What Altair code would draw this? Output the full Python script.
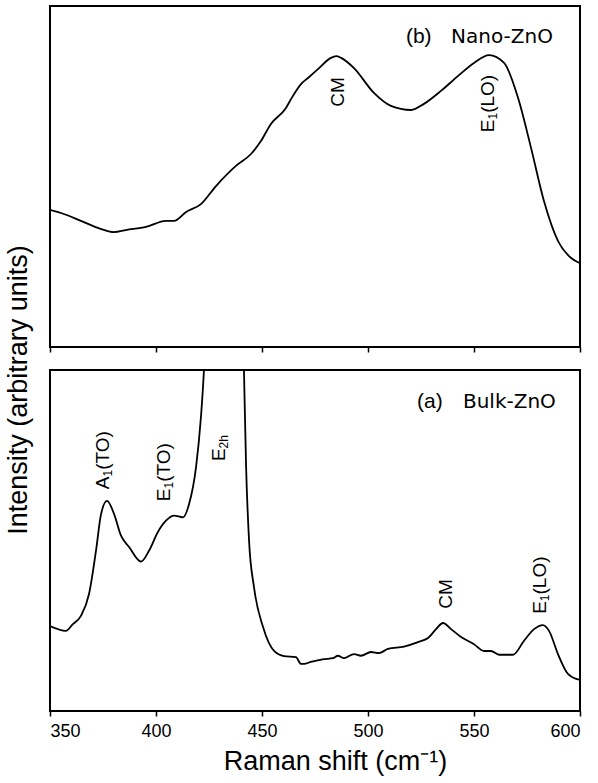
import altair as alt
import pandas as pd

# ---------------- data ----------------
# (b) Nano-ZnO spectrum (Raman shift in cm^-1, intensity in arbitrary units 0-100)
nano_shift = [350, 355.2, 364.6, 374.1, 380.2, 385.8, 395.3, 404.7, 408.5, 414.2,
              421.2, 428.3, 437.7, 444.8, 449.5, 454.2, 461.3, 463.7, 468.4, 471.7,
              476.4, 482.5, 485.0, 487.3, 493.4, 502.8, 510.8, 520.3, 526.4, 534.4,
              542.5, 550.0, 557.1, 564.2, 570.8, 576.9, 583.0, 589.6, 595.8, 600]
nano_int = [40.2, 39.3, 37.0, 34.6, 33.7, 34.3, 35.2, 37.0, 37.0, 39.6,
            41.9, 47.2, 53.1, 56.6, 60.4, 65.4, 70.1, 72.7, 77.1, 78.9,
            81.5, 84.8, 85.3, 84.8, 81.8, 74.5, 70.7, 69.5, 71.3, 75.1,
            79.5, 83.3, 85.6, 83.3, 73.0, 58.4, 42.8, 31.1, 26.1, 24.6]

# (a) Bulk-ZnO spectrum (E2h peak runs far off the top of the panel)
bulk_shift = [350, 357.5, 360.8, 364.6, 368.4, 371.7, 374.1, 376.9, 380.2, 383.5,
              387.3, 392.9, 396.7, 400.9, 404.7, 408.5, 412.7, 415.6, 418.9, 421.2,
              422.6, 432.0, 441.5, 442.5, 443.9, 446.2, 450.5, 455.7, 460.4, 466.0,
              468.4, 469.8, 473.1, 479.2, 483.5, 485.8, 488.7, 493.4, 496.7, 501.4,
              505.2, 509.4, 517.0, 523.6, 528.3, 532.1, 535.4, 539.2, 543.9, 550.0,
              554.7, 558.0, 561.8, 568.4, 573.6, 578.3, 582.5, 585.4, 589.6, 594.3, 600]
bulk_int = [24.9, 23.5, 25.5, 27.9, 34.3, 47.0, 57.8, 61.6, 57.8, 51.4,
            48.1, 43.8, 47.0, 52.5, 55.8, 57.3, 56.8, 60.7, 71.6, 86.2,
            99.8, 400.0, 99.8, 71.6, 49.9, 36.4, 24.6, 17.6, 16.1, 15.8,
            13.8, 13.8, 14.4, 15.2, 15.5, 16.2, 15.5, 16.7, 16.2, 17.3,
            17.0, 18.2, 18.9, 20.2, 21.4, 24.0, 25.8, 24.0, 21.7, 19.6,
            17.6, 17.6, 16.5, 16.5, 20.6, 24.0, 25.2, 23.5, 16.7, 10.9, 9.1]

x_ticks = [350, 400, 450, 500, 550, 600]

# peak annotations: (main text, subscript, rest) and label centre
nano_peak_main = ["CM", "E"]
nano_peak_sub = ["", "1"]
nano_peak_rest = ["", "(LO)"]
nano_peak_shift = [485.8, 556.8]
nano_peak_int = [74.8, 71.4]

bulk_peak_main = ["A", "E", "E", "CM", "E"]
bulk_peak_sub = ["1", "1", "2h", "", "1"]
bulk_peak_rest = ["(TO)", "(TO)", "", "", "(LO)"]
bulk_peak_shift = [375.2, 404.0, 429.7, 537.0, 581.1]
bulk_peak_int = [73.6, 70.1, 77.1, 34.3, 36.9]

# panel tags
tags = ["(b)", "(a)"]
names = ["Nano-ZnO", "Bulk-ZnO"]
tag_shift = [517.9, 523.1]
name_shift = [539.2, 544.8]
tag_int = [91.0, 90.6]

FONT = "Liberation Sans"
MAIN_SIZE = 19
SUB_SIZE = 12
PLOT_W, PLOT_H = 530, 341
X_DOM = [350, 600]
Y_DOM = [0, 100]

# Arial / Liberation Sans advance widths (em units) for text layout of labels
ADV = {"A": .667, "E": .667, "C": .722, "M": .833, "T": .611, "O": .778,
       "L": .556, "(": .333, ")": .333, "1": .556, "2": .556, "h": .556}


def text_w(s, size):
    return sum(ADV.get(c, .556) for c in s) * size


def label_segments(mains, subs, rests, cx, cy):
    """Split rotated labels into main / subscript pieces (in data units)."""
    px_y = (Y_DOM[1] - Y_DOM[0]) / PLOT_H      # intensity units per pixel
    px_x = (X_DOM[1] - X_DOM[0]) / PLOT_W      # cm^-1 per pixel
    main_rows, sub_rows = [], []
    for m, s, r, x, y in zip(mains, subs, rests, cx, cy):
        w1, w2, w3 = text_w(m, MAIN_SIZE), text_w(s, SUB_SIZE), text_w(r, MAIN_SIZE)
        start = -(w1 + w2 + w3) / 2
        main_rows.append({"shift": x, "intensity": y + start * px_y, "label": m})
        if s:
            sub_rows.append({"shift": x + 5.0 * px_x,
                             "intensity": y + (start + w1) * px_y, "label": s})
        if r:
            main_rows.append({"shift": x,
                              "intensity": y + (start + w1 + w2) * px_y, "label": r})
    return pd.DataFrame(main_rows), pd.DataFrame(sub_rows)


def panel(shift, inten, mains, subs, rests, pshift, pint,
          tag, name, tshift, nshift, tint, bottom):
    line_df = pd.DataFrame({"shift": shift, "intensity": inten})
    main_df, sub_df = label_segments(mains, subs, rests, pshift, pint)
    tag_df = pd.DataFrame({"shift": [tshift], "intensity": [tint], "label": [tag]})
    name_df = pd.DataFrame({"shift": [nshift], "intensity": [tint], "label": [name]})

    xscale = alt.Scale(domain=X_DOM, nice=False, zero=False)
    yscale = alt.Scale(domain=Y_DOM, nice=False, zero=False)
    if bottom:
        xaxis = alt.Axis(values=x_ticks, domain=False, grid=False, tickSize=5,
                         tickWidth=1.5, tickColor="black", labelFont=FONT,
                         labelFontSize=18, labelColor="black", labelPadding=6,
                         title="Raman shift (cm\u207b\u00b9)", titleFont=FONT,
                         titleFontSize=27, titleFontWeight="normal",
                         titleColor="black", titlePadding=8, titleX=285)
    else:
        xaxis = alt.Axis(values=x_ticks, domain=False, grid=False, tickSize=5,
                         tickWidth=1.5, tickColor="black", labels=False, title=None)

    enc = dict(x=alt.X("shift:Q", scale=xscale), y=alt.Y("intensity:Q", scale=yscale),
               text="label:N")

    line = alt.Chart(line_df).mark_line(
        color="black", strokeWidth=1.8, interpolate="monotone", clip=True
    ).encode(
        x=alt.X("shift:Q", scale=xscale, axis=xaxis),
        y=alt.Y("intensity:Q", scale=yscale, axis=None),
    )
    layers = [line]
    layers.append(alt.Chart(main_df).mark_text(
        angle=270, font=FONT, fontSize=MAIN_SIZE, align="left", baseline="middle",
        color="black").encode(**enc))
    if len(sub_df):
        layers.append(alt.Chart(sub_df).mark_text(
            angle=270, font=FONT, fontSize=SUB_SIZE, align="left", baseline="middle",
            color="black").encode(**enc))
    layers.append(alt.Chart(tag_df).mark_text(
        font=FONT, fontSize=21, align="left", baseline="middle", color="black"
    ).encode(**enc))
    layers.append(alt.Chart(name_df).mark_text(
        font="DejaVu Sans", fontSize=20, align="left", baseline="middle", color="black"
    ).encode(**enc))
    return alt.layer(*layers).properties(width=PLOT_W, height=PLOT_H)


top = panel(nano_shift, nano_int, nano_peak_main, nano_peak_sub, nano_peak_rest,
            nano_peak_shift, nano_peak_int,
            tags[0], names[0], tag_shift[0], name_shift[0], tag_int[0], False)
bottom = panel(bulk_shift, bulk_int, bulk_peak_main, bulk_peak_sub, bulk_peak_rest,
               bulk_peak_shift, bulk_peak_int,
               tags[1], names[1], tag_shift[1], name_shift[1], tag_int[1], True)

chart = alt.vconcat(top, bottom, spacing=15).properties(
    title=alt.TitleParams("Intensity (arbitrary units)", orient="left", anchor="middle",
                          font=FONT, fontSize=27, fontWeight="normal", color="black",
                          offset=15),
    padding={"left": 5, "top": 5, "right": 10, "bottom": 5},
).configure_view(stroke="black", strokeWidth=2)

chart.save("out.html", embed_options={"renderer": "svg", "actions": False})
